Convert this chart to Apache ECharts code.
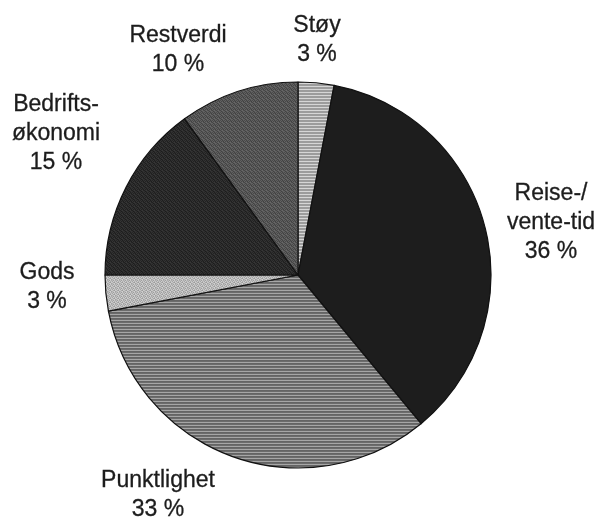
<!DOCTYPE html>
<html>
<head>
<meta charset="utf-8">
<script src="https://cdn.jsdelivr.net/npm/echarts@6/dist/echarts.min.js"></script>
<style>
  html, body { margin: 0; padding: 0; background: #fff; }
  #chart { width: 601px; height: 519px; }
</style>
</head>
<body>
<div id="chart"></div>
<script>
// Slice names and shares (%), clockwise from 12 o'clock
const categories = ['Støy', 'Reise-/\nvente-tid', 'Punktlighet', 'Gods', 'Bedrifts-\nøkonomi', 'Restverdi'];
const shares = [3, 36, 33, 3, 15, 10];

// Label block centres, in pixels
const labelPos = [[317, 40], [551, 223], [158, 495], [47, 287], [56, 134], [178, 50]];

// Build a repeating fill tile from a grid of grey levels
function tile(rows) {
  const h = rows.length, w = rows[0].length;
  const c = document.createElement('canvas');
  c.width = w; c.height = h;
  const ctx = c.getContext('2d');
  for (let y = 0; y < h; y++) {
    for (let x = 0; x < w; x++) {
      ctx.fillStyle = rows[y][x];
      ctx.fillRect(x, y, 1, 1);
    }
  }
  return { image: c, repeat: 'repeat' };
}

const A = '#9c9c9c', B = '#d6d6d6';
const fills = [
  // light horizontal hatching
  tile([[A], [A], [B]]),
  // solid near-black
  '#1d1d1d',
  // mid-grey horizontal hatching
  tile([['#646464'], ['#6c6c6c'], ['#a6a6a6']]),
  // light stipple
  tile([
    ['#bdbdbd', '#9e9e9e', '#c8c8c8', '#acacac'],
    ['#a4a4a4', '#d0d0d0', '#b0b0b0', '#c4c4c4'],
    ['#c6c6c6', '#aaaaaa', '#9c9c9c', '#cccccc'],
    ['#b2b2b2', '#c2c2c2', '#d2d2d2', '#a0a0a0']
  ]),
  // dark stipple
  tile([
    ['#262626', '#333333', '#1f1f1f', '#2e2e2e'],
    ['#353535', '#222222', '#2c2c2c', '#1e1e1e'],
    ['#202020', '#2f2f2f', '#383838', '#242424'],
    ['#2d2d2d', '#1c1c1c', '#282828', '#343434']
  ]),
  // medium-dark stipple
  tile([
    ['#4c4c4c', '#626262', '#444444', '#5a5a5a'],
    ['#646464', '#484848', '#585858', '#404040'],
    ['#464646', '#5c5c5c', '#6a6a6a', '#4e4e4e'],
    ['#5e5e5e', '#424242', '#525252', '#666666']
  ])
];

const chart = echarts.init(document.getElementById('chart'), null, { renderer: 'canvas' });

chart.setOption({
  animation: false,
  backgroundColor: '#ffffff',
  series: [{
    type: 'pie',
    center: [298, 275],
    radius: 193,
    startAngle: 90,
    clockwise: true,
    avoidLabelOverlap: false,
    data: categories.map((name, i) => ({
      name: name,
      value: shares[i],
      itemStyle: { color: fills[i] }
    })),
    itemStyle: { borderColor: '#111111', borderWidth: 1.2 },
    label: {
      show: true,
      position: 'outside',
      formatter: p => p.name + '\n' + p.value + ' %',
      fontFamily: 'Liberation Sans, Arial, sans-serif',
      fontSize: 23,
      lineHeight: 29,
      color: '#1c1c1c',
      textBorderColor: '#1c1c1c',
      textBorderWidth: 0.3
    },
    labelLine: { show: false },
    labelLayout: function (params) {
      const p = labelPos[params.dataIndex];
      return { x: p[0], y: p[1], align: 'center', verticalAlign: 'middle' };
    },
    emphasis: { disabled: true }
  }]
});
</script>
</body>
</html>
